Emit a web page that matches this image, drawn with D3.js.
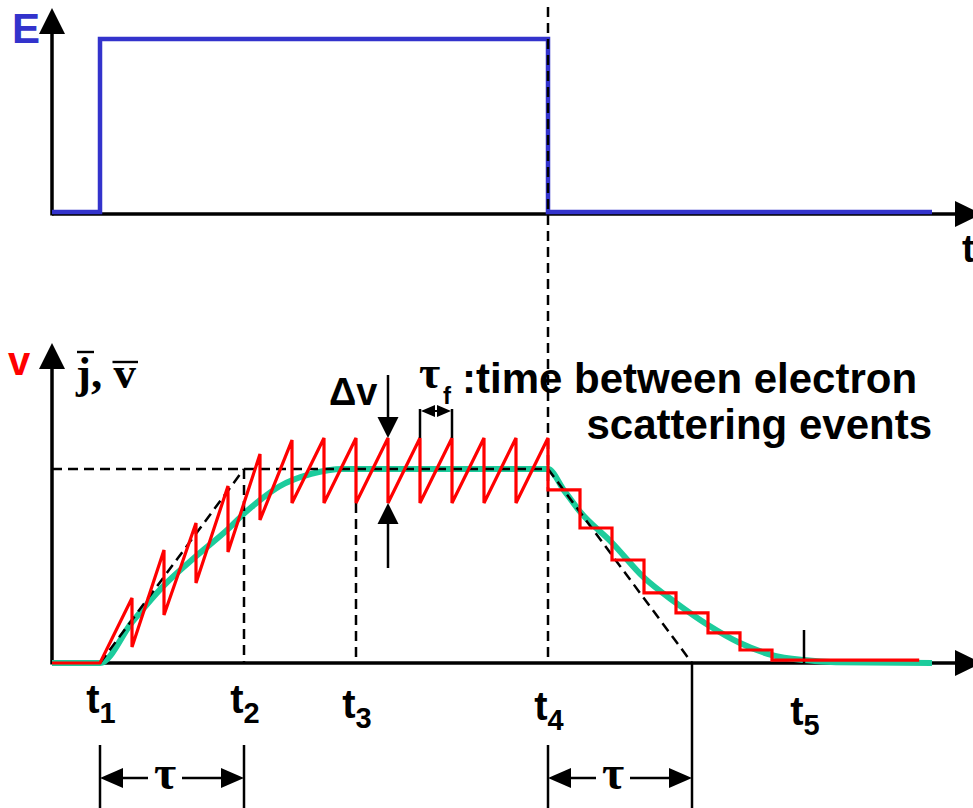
<!DOCTYPE html>
<html><head><meta charset="utf-8">
<script src="https://cdn.jsdelivr.net/npm/d3@7"></script>
<style>html,body{margin:0;padding:0;background:#fff;} svg{display:block;}</style>
</head><body>
<script>
// Time runs in units of the scattering interval tau_f, with t1 = 0.
const tickNames = ["1", "2", "3", "4", "5"];
const tickTimes = [0, 4.5, 8, 14, 22];
const tau = 4.5;

// Applied field E(t): switched on at t1, off at t4
const fieldTimes = [-1.5, 0, 0, 14, 14, 26];
const fieldValues = [0, 0, 1, 1, 0, 0];

// Drift (saturation) velocity level
const driftLevel = 100;

// Single-electron velocity: value just before and just after each scattering event (field on)
const peakValues = [33.5, 58.2, 72.2, 91.2, 107.7, 114.9, 116, 116, 116, 116, 116, 116, 116, 116];
const troughValues = [8.2, 24.7, 41.2, 57.2, 73.7, 82.5, 82.5, 82.5, 82.5, 82.5, 82.5, 82.5, 82.5, 89.2];
// Field off: velocity after each further scattering event
const relaxValues = [69.6, 53.1, 36.1, 25.8, 15.5, 6.7, 1.5];
const tailEnd = 25.6;

// Averaged velocity / current density
const meanTimes = [-1.5, 0, 1, 2, 3, 4, 4.5, 5, 5.6, 6.6, 7.6, 14, 14.5, 15, 16, 17, 18, 19, 20, 21, 22, 23, 26];
const meanValues = [0, 0, 21, 40, 55, 69, 77, 84, 91, 97.5, 100, 100, 89, 78, 62, 44, 31, 19.6, 10.3, 4.1, 1.5, 0.4, 0];

// Annotated events
const deltaVEvent = 9;
const tauFEvents = [10, 11];

const W = 973, H = 808;
const BLUE = "#3333cc", RED = "#ff0000", TEAL = "#1ccc9c";
const SANS = "'Liberation Sans', Arial, sans-serif";
const SERIF = "'Liberation Serif', 'Times New Roman', serif";

const svg = d3.select("body").append("svg").attr("width", W).attr("height", H);

const x = d3.scaleLinear().domain([-1.5, 27.5]).range([52, 980]);
const yE = d3.scaleLinear().domain([0, 1]).range([212, 39]);
const yV = d3.scaleLinear().domain([0, 100]).range([663, 469]);

const topAxisY = 214, botAxisY = yV(0);
const x0 = x(-1.5);

function tri(g, tx, ty, dir, len, half) {
  // filled arrowhead with tip at (tx,ty); dir: 'up','down','left','right'
  let pts;
  if (dir === "up") pts = [[tx, ty], [tx - half, ty + len], [tx + half, ty + len]];
  else if (dir === "down") pts = [[tx, ty], [tx - half, ty - len], [tx + half, ty - len]];
  else if (dir === "left") pts = [[tx, ty], [tx + len, ty - half], [tx + len, ty + half]];
  else pts = [[tx, ty], [tx - len, ty - half], [tx - len, ty + half]];
  g.append("polygon").attr("points", pts.map(p => p.join(",")).join(" ")).attr("fill", "#000");
}
function seg(g, x1, y1, x2, y2, w, dash) {
  const l = g.append("line").attr("x1", x1).attr("y1", y1).attr("x2", x2).attr("y2", y2)
    .attr("stroke", "#000").attr("stroke-width", w);
  if (dash) l.attr("stroke-dasharray", dash);
  return l;
}
const DASH = "10,6";

// ---------- axes ----------
const axes = svg.append("g");
// top panel
seg(axes, x0, topAxisY, 957, topAxisY, 3.5);
tri(axes, 982, topAxisY, "right", 27, 13);
seg(axes, x0, topAxisY + 1.5, x0, 30, 3.5);
tri(axes, x0, 8, "up", 26, 13);
// bottom panel
seg(axes, x0, botAxisY, 957, botAxisY, 3.5);
tri(axes, 982, botAxisY, "right", 27, 13);
seg(axes, x0, botAxisY + 1.5, x0, 368, 3.5);
tri(axes, x0, 343, "up", 26, 13);

// ---------- top panel: field ----------
const fieldLine = d3.line().x((d, i) => x(fieldTimes[i])).y(d => yE(d));
svg.append("path").attr("d", fieldLine(fieldValues))
  .attr("fill", "none").attr("stroke", BLUE).attr("stroke-width", 4.5).attr("stroke-linejoin", "miter");

svg.append("text").attr("x", 12).attr("y", 43).attr("font-family", SANS).attr("font-weight", "bold")
  .attr("font-size", 42).attr("fill", BLUE).text("E");
svg.append("text").attr("x", 962).attr("y", 262).attr("font-family", SANS).attr("font-weight", "bold")
  .attr("font-size", 38).attr("fill", "#000").text("t");

// ---------- bottom panel: averaged curve ----------
const meanLine = d3.line().x((d, i) => x(meanTimes[i])).y(d => yV(d)).curve(d3.curveMonotoneX);
svg.append("path").attr("d", meanLine(meanValues))
  .attr("fill", "none").attr("stroke", TEAL).attr("stroke-width", 6);

// ---------- guide lines ----------
const guides = svg.append("g");
const t2 = tickTimes[1], t3 = tickTimes[2], t4 = tickTimes[3], t5 = tickTimes[4];
seg(guides, x0, yV(driftLevel), x(t4), yV(driftLevel), 2.5, DASH);
seg(guides, x(0), yV(0), x(tau), yV(driftLevel), 2.5, DASH);
seg(guides, x(t2), yV(driftLevel), x(t2), yV(0), 2.5, DASH);
seg(guides, x(t3), yV(troughValues[7]), x(t3), yV(0), 2.5, DASH);
seg(guides, x(t4), 7, x(t4), yV(0), 2.5, DASH);
seg(guides, x(t4), yV(driftLevel), x(t4 + tau), yV(0), 2.5, DASH);
// solid markers
seg(guides, x(t5), yV(17), x(t5), yV(0), 2.5);
seg(guides, x(t4 + tau), yV(0), x(t4 + tau), H, 2.5);
seg(guides, x(0), 745, x(0), H, 2.5);
seg(guides, x(t2), 745, x(t2), H, 2.5);
seg(guides, x(t4), 745, x(t4), H, 2.5);

// ---------- single-electron velocity ----------
const redPts = [[-1.5, 0], [0, 0]];
peakValues.forEach((p, i) => { redPts.push([i + 1, p]); redPts.push([i + 1, troughValues[i]]); });
let level = troughValues[troughValues.length - 1];
relaxValues.forEach((v, j) => {
  const t = peakValues.length + j + 1;
  redPts.push([t, level]); redPts.push([t, v]); level = v;
});
redPts.push([tailEnd, level]);
svg.append("path").attr("d", d3.line().x(d => x(d[0])).y(d => yV(d[1]))(redPts))
  .attr("fill", "none").attr("stroke", RED).attr("stroke-width", 3.2).attr("stroke-linejoin", "miter");

// ---------- labels ----------
svg.append("text").attr("x", 8).attr("y", 375).attr("font-family", SANS).attr("font-weight", "bold")
  .attr("font-size", 40).attr("fill", RED).text("v");

const jv = svg.append("text").attr("x", 76).attr("y", 388).attr("font-family", SERIF).attr("font-weight", "bold")
  .attr("font-size", 45).attr("fill", "#000").text("j, v");
{
  const n = jv.node();
  const ej = n.getExtentOfChar(0), ev = n.getExtentOfChar(3);
  seg(svg, ej.x + 1, 352, ej.x + 18, 352, 2.4);
  seg(svg, ev.x - 1, 362, ev.x + ev.width + 2, 362, 2.4);
}

// tick labels
const tl = svg.append("g").attr("font-family", SANS).attr("font-weight", "bold").attr("fill", "#000");
const labelDrop = [0, 0, 5, 7, 12];
tickTimes.forEach((t, i) => {
  const txt = tl.append("text").attr("x", x(t) + 1).attr("y", 713 + labelDrop[i]).attr("text-anchor", "middle");
  txt.append("tspan").attr("font-size", 40).text("t");
  txt.append("tspan").attr("font-size", 29).attr("dy", 10).text(tickNames[i]);
});

// tau spans
function tauSpan(ta, tb) {
  const g = svg.append("g");
  const a = x(ta), b = x(tb), y = 778;
  const c = (a + b) / 2 - 7;
  tri(g, a, y, "left", 23, 10);
  tri(g, b, y, "right", 23, 10);
  seg(g, a + 20, y, c - 17, y, 2.5);
  seg(g, c + 17, y, b - 20, y, 2.5);
  g.append("text").attr("x", c).attr("y", 789).attr("text-anchor", "middle")
    .attr("font-family", SERIF).attr("font-weight", "bold").attr("font-size", 48).text("τ");
}
tauSpan(0, tau);
tauSpan(t4, t4 + tau);

// delta v marker
{
  const g = svg.append("g");
  const xd = x(deltaVEvent);
  const yp = yV(peakValues[deltaVEvent - 1]), yt = yV(troughValues[deltaVEvent - 1]);
  seg(g, xd, 375, xd, yp - 18, 2.5);
  tri(g, xd, yp, "down", 21, 10.5);
  seg(g, xd, 568, xd, yt + 18, 2.5);
  tri(g, xd, yt, "up", 21, 10.5);
  g.append("text").attr("x", 329).attr("y", 405).attr("font-family", SANS).attr("font-weight", "bold")
    .attr("font-size", 38).text("Δv");
}

// tau_f bracket
{
  const g = svg.append("g");
  const xa = x(tauFEvents[0]), xb = x(tauFEvents[1]);
  const yp = yV(peakValues[tauFEvents[0] - 1]);
  seg(g, xa, 409, xa, yp, 2.5);
  seg(g, xb, 409, xb, yp, 2.5);
  seg(g, xa + 8, 411, xb - 8, 411, 2);
  tri(g, xa + 1, 411, "left", 14, 6);
  tri(g, xb - 1, 411, "right", 14, 6);
  g.append("text").attr("x", 419).attr("y", 388).attr("font-family", SERIF).attr("font-weight", "bold")
    .attr("font-size", 46).text("τ");
  g.append("text").attr("x", 443).attr("y", 404).attr("font-family", SANS).attr("font-weight", "bold")
    .attr("font-size", 24).text("f");
}

svg.append("text").attr("x", 462).attr("y", 393).attr("font-family", SANS).attr("font-weight", "bold")
  .attr("font-size", 42).text(":time between electron");
svg.append("text").attr("x", 932).attr("y", 439).attr("text-anchor", "end").attr("font-family", SANS).attr("font-weight", "bold")
  .attr("font-size", 42).text("scattering events");
</script>
</body></html>
